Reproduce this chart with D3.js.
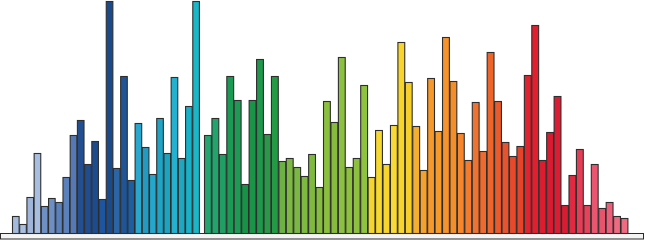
<!DOCTYPE html>
<html>
<head>
<meta charset="utf-8">
<script src="https://cdn.jsdelivr.net/npm/d3@7"></script>
<style>
  body { margin: 0; background: #fff; }
</style>
</head>
<body>
<div id="chart"></div>
<script>
// bar heights, left to right
var values = [17, 9, 36, 80, 27, 35, 31, 56, 98, 113, 69, 92, 34, 232, 65, 157, 53, 110, 86, 59,
  115, 80, 156, 75, 127, 232,
  98, 115, 79, 157, 133, 49, 133, 174, 99, 157, 72, 75, 66, 57, 79, 46, 132, 111, 176, 66, 75, 148,
  56, 103, 69, 108, 191, 151, 107, 63, 155, 102, 196, 152, 100, 73, 131, 82, 181, 132, 91, 77, 87,
  158, 208, 73, 101, 137, 28, 58, 84, 28, 69, 25, 31, 17, 15];

// the bars come in two runs with a small gap between them
var groupSizes = [26, 57];

var barColors = ["#a4badc", "#a9bfe0", "#9fb6da", "#a8bee0", "#6f90c4", "#6d8fc4", "#5b81bc", "#5b81bd",
  "#5579b7", "#234f91", "#1f4d8f", "#1c4c8e", "#1e55a0", "#1b4a8a", "#2b65a6", "#1f5596", "#1d5ea1",
  "#29a7cf", "#1f9cc4", "#24a7cb", "#1fa4c6", "#1ba3c0", "#24b1cf", "#1aa8c2", "#1ab0c7", "#1ab7c9",
  "#22a670", "#21a56c", "#1f9f64", "#1a9a55", "#1d9b55", "#179347", "#1a9547", "#1e984a", "#2a9848",
  "#239a44", "#6cb144", "#7cb842", "#7ab744", "#7dba3f", "#7fba3f", "#86bd3e", "#8bbf3e", "#86bb3d",
  "#8cc03f", "#8dc03f", "#8dc03f", "#8fc23e", "#f5d52b", "#f7d830", "#f7d52a", "#f8d935", "#f8d52b",
  "#f7cf2b", "#f4af30", "#f5a22c", "#f6992a", "#f79a2a", "#f7932a", "#f48e29", "#f5862b", "#f37c2c",
  "#f07230", "#ef6a2e", "#ee652b", "#ea5a2a", "#e8522c", "#e64a2b", "#e6432b", "#e2222e", "#e11f2f",
  "#dd1c2f", "#da1a31", "#dd1c33", "#d81d33", "#e12a41", "#e63c55", "#e64259", "#ea5670", "#e9546c",
  "#ed5e78", "#ee6a80", "#ef6b82"];

var width = 645, height = 240;
var baseY = 233;

var svg = d3.select("#chart")
    .append("svg")
    .attr("width", width)
    .attr("height", height);

var bars = values.map(function(v, i) { return { id: "b" + i, value: v, color: barColors[i], group: i < groupSizes[0] ? 0 : 1 }; });

// one band scale per run of bars
var xLeft = d3.scaleBand()
    .domain(bars.filter(function(d) { return d.group == 0; }).map(function(d) { return d.id; }))
    .range([12, 199.5])
    .padding(0);
var xRight = d3.scaleBand()
    .domain(bars.filter(function(d) { return d.group == 1; }).map(function(d) { return d.id; }))
    .range([204, 628])
    .padding(0);

var y = d3.scaleLinear()
    .domain([0, 232])
    .range([baseY, 1]);

function xOf(d) { return d.group == 0 ? xLeft(d.id) : xRight(d.id); }
function wOf(d) { return d.group == 0 ? xLeft.bandwidth() : xRight.bandwidth(); }

// the bottom strip
svg.append("rect")
    .attr("x", 0.5)
    .attr("y", baseY + 0.5)
    .attr("width", 643)
    .attr("height", 5.5)
    .style("fill", "#f4f4f4")
    .style("stroke", "#2b2b2b")
    .style("stroke-width", 1);

svg.selectAll("rect.bar")
    .data(bars)
    .enter()
    .append("rect")
    .attr("class", "bar")
    .attr("x", function(d) { return xOf(d) + 0.5; })
    .attr("y", function(d) { return y(d.value) + 0.5; })
    .attr("width", function(d) { return wOf(d) - 0.6; })
    .attr("height", function(d) { return baseY - y(d.value); })
    .style("fill", function(d) { return d.color; })
    .style("stroke", "#2e2e2e")
    .style("stroke-width", 1.1);
</script>
</body>
</html>
